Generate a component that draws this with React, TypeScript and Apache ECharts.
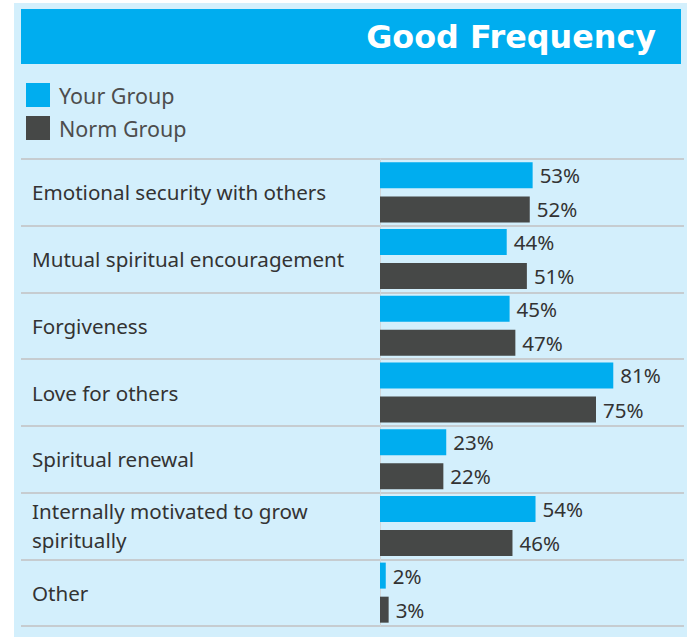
import React, { useEffect, useRef } from "react";
import * as echarts from "echarts";

const titleText = "Good Frequency";
const seriesNames = ["Your Group", "Norm Group"];
const categories = [
  "Emotional security with others",
  "Mutual spiritual encouragement",
  "Forgiveness",
  "Love for others",
  "Spiritual renewal",
  "Internally motivated to grow\nspiritually",
  "Other",
];
const yourGroup = [53, 44, 45, 81, 23, 54, 2];
const normGroup = [52, 51, 47, 75, 22, 46, 3];

const BLUE = "#00adef";
const DARK = "#464847";
const PANEL = "#d3effc";
const FONT = "Noto Sans";

export default function App() {
  const ref = useRef<HTMLDivElement>(null);
  useEffect(() => {
    if (!ref.current) return;
    const chart = echarts.init(ref.current, null, { renderer: "svg" });
    const labelCfg = {
      show: true,
      position: "right",
      distance: 7,
      formatter: "{c}%",
      fontSize: 20.5,
      color: "#333333",
      fontFamily: FONT,
    };
    chart.setOption({
      animation: false,
      backgroundColor: "#ffffff",
      textStyle: { fontFamily: FONT },
      graphic: {
        elements: [
          { type: "rect", z: -100, shape: { x: 14, y: 3, width: 673, height: 634 }, style: { fill: PANEL } },
          { type: "rect", z: -99, shape: { x: 21, y: 9, width: 660, height: 55 }, style: { fill: BLUE } },
        ],
      },
      title: {
        text: titleText,
        right: 31,
        top: 20,
        padding: 0,
        textStyle: { color: "#ffffff", fontSize: 31.8, fontWeight: "bold", fontFamily: "DejaVu Sans" },
      },
      legend: {
        orient: "vertical",
        left: 26,
        top: 83,
        padding: 0,
        itemWidth: 24,
        itemHeight: 24,
        itemGap: 9,
        icon: "rect",
        data: seriesNames,
        textStyle: { fontSize: 21.5, color: "#4d4d4d", fontFamily: FONT, padding: [0, 0, 0, 4] },
      },
      grid: [
        { left: 21, right: 3, top: 159, height: 467 },
        { left: 380, width: 288, top: 159, height: 467 },
      ],
      xAxis: [
        { gridIndex: 0, type: "value", min: 0, max: 1, show: false },
        { gridIndex: 1, type: "value", min: 0, max: 100, show: false },
      ],
      yAxis: [
        {
          gridIndex: 0,
          type: "category",
          data: categories,
          inverse: true,
          axisLine: { show: false },
          axisTick: { show: false },
          splitLine: { show: true, lineStyle: { color: "#c6ccd0", width: 2 } },
          axisLabel: {
            inside: true,
            margin: 11,
            fontSize: 20.6,
            lineHeight: 29,
            color: "#333333",
            fontFamily: FONT,
          },
        },
        {
          gridIndex: 1,
          type: "category",
          data: categories,
          inverse: true,
          axisLabel: { show: false },
          axisTick: { show: false },
          splitLine: { show: false },
          axisLine: { show: true, lineStyle: { color: "#cfd6da", width: 1 } },
        },
      ],
      series: [
        {
          name: seriesNames[0],
          type: "bar",
          xAxisIndex: 1,
          yAxisIndex: 1,
          data: yourGroup,
          barWidth: 26,
          barGap: "31%",
          itemStyle: { color: BLUE },
          label: labelCfg,
        },
        {
          name: seriesNames[1],
          type: "bar",
          xAxisIndex: 1,
          yAxisIndex: 1,
          data: normGroup,
          barWidth: 26,
          barGap: "31%",
          itemStyle: { color: DARK },
          label: labelCfg,
        },
      ],
    });
    return () => chart.dispose();
  }, []);
  return (
    <div
      ref={ref}
      style={{ position: "fixed", left: 0, top: 0, width: 687, height: 637 }}
    />
  );
}
